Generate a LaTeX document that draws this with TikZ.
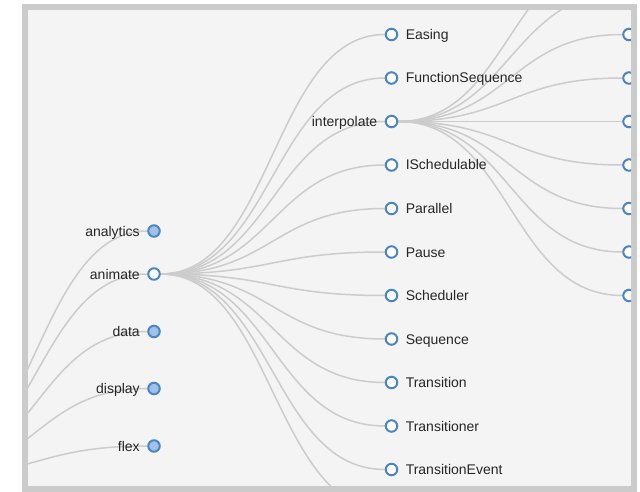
\documentclass[tikz,border=0pt]{standalone}
\usepackage{fontspec}
\setmainfont{Liberation Sans}
\usetikzlibrary{backgrounds}
\definecolor{steelblue}{HTML}{4A86C6}
\definecolor{lightsteel}{HTML}{A2C1E8}
\definecolor{linkgray}{HTML}{CCCCCC}
\definecolor{panel}{HTML}{F4F4F4}
\definecolor{framegray}{HTML}{CBCBCB}

\begin{document}
\begin{tikzpicture}[x = 1pt, y = -1pt,
        every node/.style={circle, draw=steelblue, line width=2pt, fill=white, minimum size=11.5pt, inner sep=0pt},
        every label/.style={shape=rectangle, draw=none, fill=none, inner sep=0pt, text height=10pt, text depth=0pt, font=\fontsize{14}{16}\selectfont, text=black!85},
        label distance=6.5pt,
        closed/.style={fill=lightsteel},
        link/.style={draw=linkgray, line width=1.5pt}
]
    \useasboundingbox (0,0) rectangle (640,492);
\begin{scope}
    \clip (28,10) rectangle (631,486);
    % depth 0 and 1
    \coordinate (root) at (-83.5,478);
    \node[closed, label=180:analytics] (analytics) at (154,231) {};
    \node[label=180:animate] (animate) at (154,274) {};
    \node[closed, label=180:data] (data) at (154,331.5) {};
    \node[closed, label=180:display] (display) at (154,388.5) {};
    \node[closed, label=180:flex] (flex) at (154,446) {};
    % depth 2
    \node[label=0:Easing] (easing) at (391.5,34.5) {};
    \node[label=0:FunctionSequence] (funcseq) at (391.5,78) {};
    \node[label=180:interpolate] (interpolate) at (391.5,121.5) {};
    \node[label=0:ISchedulable] (ischedulable) at (391.5,165) {};
    \node[label=0:Parallel] (parallel) at (391.5,208.5) {};
    \node[label=0:Pause] (pause) at (391.5,252) {};
    \node[label=0:Scheduler] (scheduler) at (391.5,295.5) {};
    \node[label=0:Sequence] (sequence) at (391.5,339) {};
    \node[label=0:Transition] (transition) at (391.5,382.5) {};
    \node[label=0:Transitioner] (transitioner) at (391.5,426) {};
    \node[label=0:TransitionEvent] (transevent) at (391.5,469.5) {};
    \coordinate (tween) at (391.5,513);
    % depth 3
    \coordinate (arrayinterp) at (629,-52.5);
    \coordinate (colorinterp) at (629,-9);
    \node (dateinterp) at (629,34.5) {};
    \node (interp) at (629,78) {};
    \node (matrixinterp) at (629,121.5) {};
    \node (numberinterp) at (629,165) {};
    \node (objectinterp) at (629,208.5) {};
    \node (pointinterp) at (629,252) {};
    \node (rectinterp) at (629,295.5) {};
\end{scope}

\begin{pgfonlayer}{background}
    \fill[framegray] (22,4) rectangle (637,492);
    \fill[panel] (28,10) rectangle (631,486);
\begin{scope}
    \clip (28,10) rectangle (631,486);
    \draw[link] (root) .. controls +(118.75,0) and +(-118.75,0) .. (analytics);
    \draw[link] (root) .. controls +(118.75,0) and +(-118.75,0) .. (animate);
    \draw[link] (root) .. controls +(118.75,0) and +(-118.75,0) .. (data);
    \draw[link] (root) .. controls +(118.75,0) and +(-118.75,0) .. (display);
    \draw[link] (root) .. controls +(118.75,0) and +(-118.75,0) .. (flex);

    \draw[link] (animate) .. controls +(118.75,0) and +(-118.75,0) .. (easing);
    \draw[link] (animate) .. controls +(118.75,0) and +(-118.75,0) .. (funcseq);
    \draw[link] (animate) .. controls +(118.75,0) and +(-118.75,0) .. (interpolate);
    \draw[link] (animate) .. controls +(118.75,0) and +(-118.75,0) .. (ischedulable);
    \draw[link] (animate) .. controls +(118.75,0) and +(-118.75,0) .. (parallel);
    \draw[link] (animate) .. controls +(118.75,0) and +(-118.75,0) .. (pause);
    \draw[link] (animate) .. controls +(118.75,0) and +(-118.75,0) .. (scheduler);
    \draw[link] (animate) .. controls +(118.75,0) and +(-118.75,0) .. (sequence);
    \draw[link] (animate) .. controls +(118.75,0) and +(-118.75,0) .. (transition);
    \draw[link] (animate) .. controls +(118.75,0) and +(-118.75,0) .. (transitioner);
    \draw[link] (animate) .. controls +(118.75,0) and +(-118.75,0) .. (transevent);
    \draw[link] (animate) .. controls +(118.75,0) and +(-118.75,0) .. (tween);

    \draw[link] (interpolate) .. controls +(118.75,0) and +(-118.75,0) .. (arrayinterp);
    \draw[link] (interpolate) .. controls +(118.75,0) and +(-118.75,0) .. (colorinterp);
    \draw[link] (interpolate) .. controls +(118.75,0) and +(-118.75,0) .. (dateinterp);
    \draw[link] (interpolate) .. controls +(118.75,0) and +(-118.75,0) .. (interp);
    \draw[link] (interpolate) .. controls +(118.75,0) and +(-118.75,0) .. (matrixinterp);
    \draw[link] (interpolate) .. controls +(118.75,0) and +(-118.75,0) .. (numberinterp);
    \draw[link] (interpolate) .. controls +(118.75,0) and +(-118.75,0) .. (objectinterp);
    \draw[link] (interpolate) .. controls +(118.75,0) and +(-118.75,0) .. (pointinterp);
    \draw[link] (interpolate) .. controls +(118.75,0) and +(-118.75,0) .. (rectinterp);
\end{scope}
\end{pgfonlayer}

\end{tikzpicture}
\end{document}
